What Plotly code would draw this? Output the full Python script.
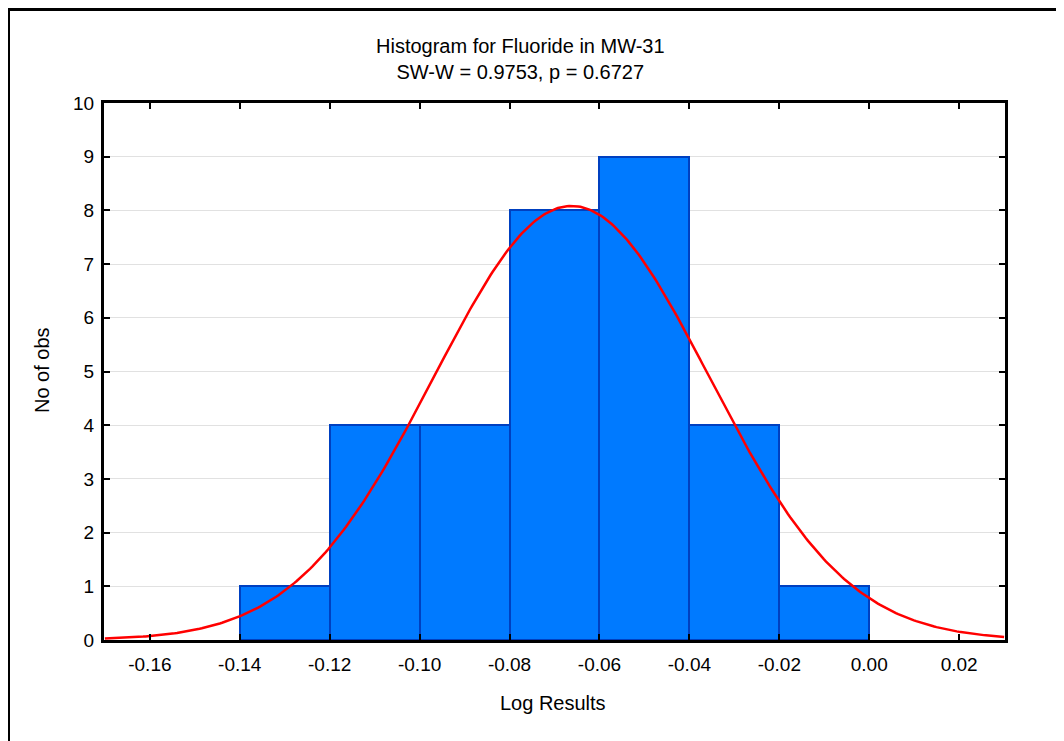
import numpy as np
import plotly.graph_objects as go

# Histogram data
bin_left = [-0.14, -0.12, -0.10, -0.08, -0.06, -0.04, -0.02]
bin_width = 0.02
counts = [1, 4, 4, 8, 9, 4, 1]

# Fitted normal parameters (from picture)
fit_mean = -0.0662
fit_sd = 0.0306

x_ticks = [-0.16, -0.14, -0.12, -0.10, -0.08, -0.06, -0.04, -0.02, 0.00, 0.02]
y_ticks = list(range(0, 11))

n_obs = sum(counts)
centers = [b + bin_width / 2 for b in bin_left]
xs = np.linspace(-0.17, 0.03, 400)
ys = n_obs * bin_width / (fit_sd * np.sqrt(2 * np.pi)) * np.exp(-0.5 * ((xs - fit_mean) / fit_sd) ** 2)

fig = go.Figure()
fig.add_trace(go.Bar(
    x=centers, y=counts, width=[bin_width] * len(counts),
    marker=dict(color="rgb(0,122,255)", line=dict(color="rgb(0,64,192)", width=2)),
    showlegend=False,
))
fig.add_trace(go.Scatter(
    x=xs, y=ys, mode="lines", line=dict(color="rgb(255,0,0)", width=2.5),
    showlegend=False,
))

font = "Liberation Sans, Arial, sans-serif"
# page has an 8px body margin; plot area spans page px x 104..1005, y 103..640
fig.update_layout(
    width=1056, height=733,
    margin=dict(l=96, r=59, t=95, b=101),
    paper_bgcolor="white", plot_bgcolor="white",
    font=dict(family=font, size=19, color="black"),
    bargap=0,
    xaxis=dict(
        range=[-0.1702, 0.0302], tickvals=x_ticks,
        ticktext=[f"{v:.2f}" for v in x_ticks],
        ticks="inside", ticklen=6, tickwidth=2, tickcolor="black",
        showline=True, linewidth=3, linecolor="black", mirror="allticks",
        showgrid=False, zeroline=False,
        ticklabelstandoff=5,
        tickfont=dict(size=19),
    ),
    yaxis=dict(
        range=[0, 10], tickvals=y_ticks,
        ticks="inside", ticklen=6, tickwidth=2, tickcolor="black",
        showline=True, linewidth=3, linecolor="black", mirror="allticks",
        showgrid=True, gridcolor="rgb(225,225,225)", gridwidth=1,
        zeroline=False,
        ticklabelstandoff=3,
        tickfont=dict(size=19),
    ),
    annotations=[
        dict(text="Histogram for Fluoride in MW-31<br>SW-W = 0.9753, p = 0.6727",
             xref="paper", yref="paper",
             x=(520 - 104) / 901, y=(640 - 59.5) / 537,
             xanchor="center", yanchor="middle", showarrow=False,
             font=dict(size=20, family=font), align="center"),
        dict(text="Log Results", xref="paper", yref="paper",
             x=(553 - 104) / 901, y=(640 - 703) / 537,
             xanchor="center", yanchor="middle", showarrow=False,
             font=dict(size=20, family=font)),
        dict(text="No of obs", xref="paper", yref="paper",
             x=(42 - 104) / 901, y=(640 - 370) / 537, textangle=-90,
             xanchor="center", yanchor="middle", showarrow=False,
             font=dict(size=20, family=font)),
    ],
    shapes=[
        dict(type="rect", xref="paper", yref="paper",
             x0=(8.5 - 104) / 901, x1=(1075 - 104) / 901,
             y0=(640 - 760) / 537, y1=(640 - 9.5) / 537,
             line=dict(color="black", width=3), fillcolor="rgba(0,0,0,0)", layer="below"),
    ],
)

fig.write_html("out.html")
